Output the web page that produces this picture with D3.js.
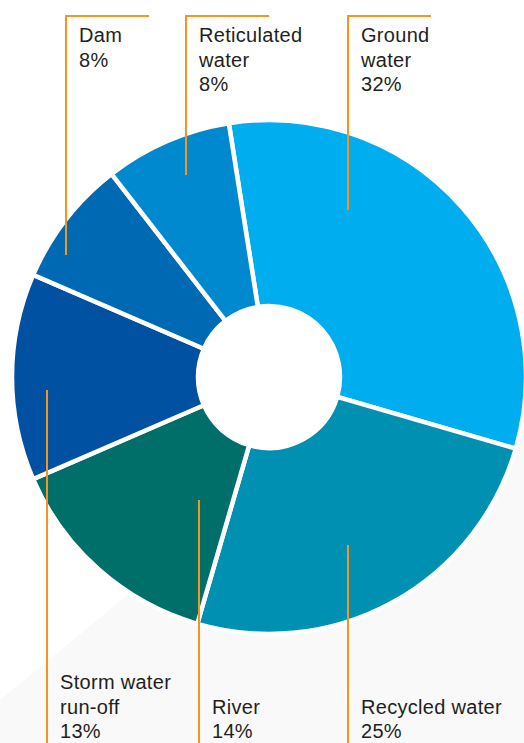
<!DOCTYPE html>
<html>
<head>
<meta charset="utf-8">
<script src="https://cdn.jsdelivr.net/npm/d3@7"></script>
<style>
  body { margin: 0; background: #fff; }
  text { font-family: "Helvetica Neue", "Liberation Sans", Arial, sans-serif; fill: #231f20; font-size: 20px; letter-spacing: 0.3px; }
</style>
</head>
<body>
<svg id="donut" width="524" height="743"></svg>
<script>
// water sources, clockwise from top
const sources = ["Ground water", "Recycled water", "River", "Storm water run-off", "Dam", "Reticulated water"];
const shares = [32, 25, 14, 13, 8, 8];
const colors = ["#00aeef", "#0090b2", "#006f6a", "#0051a2", "#0069b4", "#0089cf"];
// label lines as printed
const labelLines = [
  ["Ground", "water", "32%"],
  ["Recycled water", "25%"],
  ["River", "14%"],
  ["Storm water", "run-off", "13%"],
  ["Dam", "8%"],
  ["Reticulated", "water", "8%"]
];

const svg = d3.select("#donut");
const cx = 269, cy = 377;
const outerR = 257, innerR = 71;

// faint grey wash at the bottom
svg.append("path")
  .attr("d", "M0,700 L170,560 L524,420 L524,743 L0,743 Z")
  .attr("fill", "#f9f9f9");

const pie = d3.pie().sort(null).value((d) => d)
  .startAngle(-9 * Math.PI / 180)
  .endAngle(351 * Math.PI / 180);
const arc = d3.arc().innerRadius(innerR).outerRadius(outerR);

const g = svg.append("g").attr("transform", "translate(" + cx + "," + cy + ")");

g.selectAll("path")
  .data(pie(shares))
  .enter()
  .append("path")
  .attr("d", arc)
  .attr("fill", (d, i) => colors[i])
  .attr("stroke", "#fff")
  .attr("stroke-width", 4.5);

// leader lines + labels (top ones hang down, bottom ones rise up)
const leaders = [
  { x: 348, y1: 16, y2: 210, top: true },
  { x: 348, y1: 545, y2: 743, top: false },
  { x: 199, y1: 500, y2: 743, top: false },
  { x: 47, y1: 390, y2: 743, top: false },
  { x: 66, y1: 16, y2: 255, top: true },
  { x: 186, y1: 16, y2: 175, top: true }
];

leaders.forEach(function (l, i) {
  const pts = l.top
    ? [[l.x + 83, l.y1], [l.x, l.y1], [l.x, l.y2]]
    : [[l.x, l.y1], [l.x, l.y2]];
  svg.append("path")
    .attr("d", d3.line()(pts))
    .attr("fill", "none")
    .attr("stroke", "#f7941d")
    .attr("stroke-width", 2);

  const lines = labelLines[i];
  const y0 = l.top ? 42 : 738 - (lines.length - 1) * 24.5;
  const t = svg.append("text").attr("x", l.x + 13).attr("y", y0);
  lines.forEach(function (s, k) {
    t.append("tspan").attr("x", l.x + 13).attr("dy", k === 0 ? 0 : 24.5).text(s);
  });
});
</script>
</body>
</html>
